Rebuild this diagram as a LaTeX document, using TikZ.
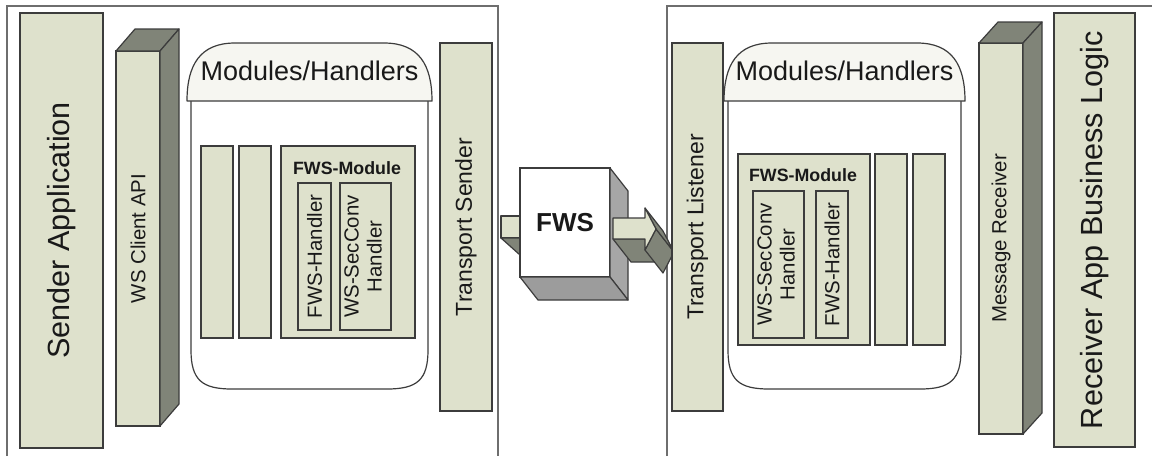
\documentclass[tikz,border=0pt]{standalone}
\usepackage{fontspec}
\setmainfont{Liberation Sans}
\usetikzlibrary{calc}
\definecolor{boxfill}{RGB}{222,225,204}
\definecolor{sidegray}{RGB}{128,132,120}
\definecolor{cubegray}{RGB}{166,166,166}
\definecolor{cubedark}{RGB}{156,156,156}
\definecolor{domefill}{RGB}{246,246,241}
\definecolor{linegray}{RGB}{60,60,60}
\definecolor{framegray}{RGB}{110,110,110}
\definecolor{inkgray}{RGB}{25,25,25}
\tikzstyle{box}=[rectangle, fill=boxfill, draw=linegray, line width=0.65pt, inner sep=0pt, outer sep=0pt, anchor=center, text=inkgray]
\tikzstyle{edgeline}=[draw=linegray, line width=0.6pt, line join=round]
\tikzstyle{frameline}=[draw=framegray, line width=1.2pt]
\tikzstyle{annot}=[align=center, text=inkgray, inner sep=0pt]
\newcommand{\bigfont}{\fontsize{15.3}{18}\selectfont}
\newcommand{\titlefont}{\fontsize{13.5}{16}\selectfont}
\newcommand{\midfont}{\fontsize{11.5}{13}\selectfont}
\newcommand{\smallfont}{\fontsize{10.2}{11.5}\selectfont}
\newcommand{\extrude}[5]
{
  \draw[edgeline, fill=#5] (#1) -- ($(#1)+(#3,#4)$) -- ($(#2)+(#3,#4)$) -- (#2) -- cycle;
}
\newcommand{\modulesframe}[3]
{
  \draw[edgeline, fill=white] (#1+4,101) -- (#1+4,350) .. controls (#1+4,380) and (#1+15,389) .. (#1+45,389) -- (#1+#2-45,389) .. controls (#1+#2-15,389) and (#1+#2-4,380) .. (#1+#2-4,350) -- (#1+#2-4,101);
  \draw[edgeline, fill=domefill] (#1,101) .. controls (#1,65) and (#1+13,43) .. (#1+48,43) -- (#1+#2-48,43) .. controls (#1+#2-13,43) and (#1+#2,65) .. (#1+#2,101) -- cycle;
  \node[annot, font=\titlefont] (#3) at (#1+#2/2,71) {Modules/Handlers};
}
\begin{document}
\begin{tikzpicture}[x=0.5pt, y=-0.5pt]
	\useasboundingbox (0,0) rectangle (1152,456);

	\draw[frameline] (7,456) -- (7,6) -- (498,6) -- (498,456);
	\draw[frameline] (667,456) -- (667,6) -- (1152,6);

	% sender side
	\node[box, minimum width=41.5pt, minimum height=217.5pt, font=\bigfont] (sender) at (61.5,230.5) {\rotatebox{90}{Sender Application}};
	\node[box, minimum width=22pt, minimum height=187.5pt, font=\smallfont] (wsapi) at (138,238.5) {\rotatebox{90}{WS Client API}};
	\extrude{wsapi.north west}{wsapi.north east}{19}{-22}{sidegray}
	\extrude{wsapi.north east}{wsapi.south east}{19}{-22}{sidegray}

	\modulesframe{187}{245}{mhsend}
	\node[box, minimum width=16pt, minimum height=96pt] (slot1) at (217,242) {};
	\node[box, minimum width=16pt, minimum height=96pt] (slot2) at (255,242) {};
	\node[box, minimum width=67pt, minimum height=96pt] (fwsmodsend) at (348,242) {};
	\node[annot, font=\bfseries\fontsize{8.9}{10}\selectfont] (fwsmodsendtitle) at (347,168) {FWS-Module};
	\node[box, minimum width=16.5pt, minimum height=73.5pt, font=\smallfont] (fwshsend) at (314.5,256.5) {\rotatebox{90}{FWS-Handler}};
	\node[box, minimum width=25.5pt, minimum height=73.5pt, font=\smallfont] (secconvsend) at (365.5,256.5) {\rotatebox{90}{\begin{tabular}{@{}c@{}}WS-SecConv\\Handler\end{tabular}}};

	\node[box, minimum width=26pt, minimum height=184pt, font=\midfont] (tsender) at (466,227) {\rotatebox{90}{Transport Sender}};

	% FWS in the middle
	\draw[edgeline, fill=boxfill] (501,216) rectangle (520,238);
	\draw[edgeline, fill=sidegray] (501,238) -- (520,238) -- (520,255) -- cycle;
	\node[box, fill=white, minimum width=45pt, minimum height=54.5pt, font=\bfseries\fontsize{13}{15}\selectfont] (cube) at (565,222.5) {FWS};
	\extrude{cube.north east}{cube.south east}{18}{23}{cubegray}
	\extrude{cube.south west}{cube.south east}{18}{23}{cubedark}

	\coordinate (arr1) at (613,218);
	\coordinate (arr2) at (645,218);
	\coordinate (arr3) at (645,208);
	\coordinate (arr4) at (656,229);
	\coordinate (arr5) at (645,250);
	\coordinate (arr6) at (645,239);
	\coordinate (arr7) at (613,239);
	\extrude{arr6}{arr7}{18}{23}{sidegray}
	\extrude{arr4}{arr5}{18}{23}{sidegray}
	\extrude{arr3}{arr4}{18}{23}{sidegray}
	\draw[edgeline, fill=boxfill] (arr1) -- (arr2) -- (arr3) -- (arr4) -- (arr5) -- (arr6) -- (arr7) -- cycle;

	% receiver side
	\node[box, minimum width=25.5pt, minimum height=184pt, font=\midfont] (tlistener) at (697.5,227) {\rotatebox{90}{Transport Listener}};

	\modulesframe{724}{241}{mhrecv}
	\node[box, minimum width=66pt, minimum height=95.5pt] (fwsmodrecv) at (804,249.5) {};
	\node[annot, font=\bfseries\fontsize{8.9}{10}\selectfont] (fwsmodrecvtitle) at (803,175) {FWS-Module};
	\node[box, minimum width=25.5pt, minimum height=73.5pt, font=\smallfont] (secconvrecv) at (778.5,264.5) {\rotatebox{90}{\begin{tabular}{@{}c@{}}WS-SecConv\\Handler\end{tabular}}};
	\node[box, minimum width=16pt, minimum height=73.5pt, font=\smallfont] (fwshrecv) at (832,264.5) {\rotatebox{90}{FWS-Handler}};
	\node[box, minimum width=16pt, minimum height=95.5pt] (slot3) at (891,249.5) {};
	\node[box, minimum width=16pt, minimum height=95.5pt] (slot4) at (929,249.5) {};

	\node[box, minimum width=22pt, minimum height=195.5pt, font=\smallfont] (msgrecv) at (1001,238.5) {\rotatebox{90}{Message Receiver}};
	\extrude{msgrecv.north west}{msgrecv.north east}{19}{-21}{sidegray}
	\extrude{msgrecv.north east}{msgrecv.south east}{19}{-21}{sidegray}
	%\node[box, minimum width=22pt, minimum height=195.5pt] (msgrecvback) at (1020,217.5) {};

	\node[box, minimum width=40.5pt, minimum height=217pt, font=\bigfont] (receiver) at (1094.5,230) {\rotatebox{90}{Receiver App Business Logic}};

\end{tikzpicture}
\end{document}
